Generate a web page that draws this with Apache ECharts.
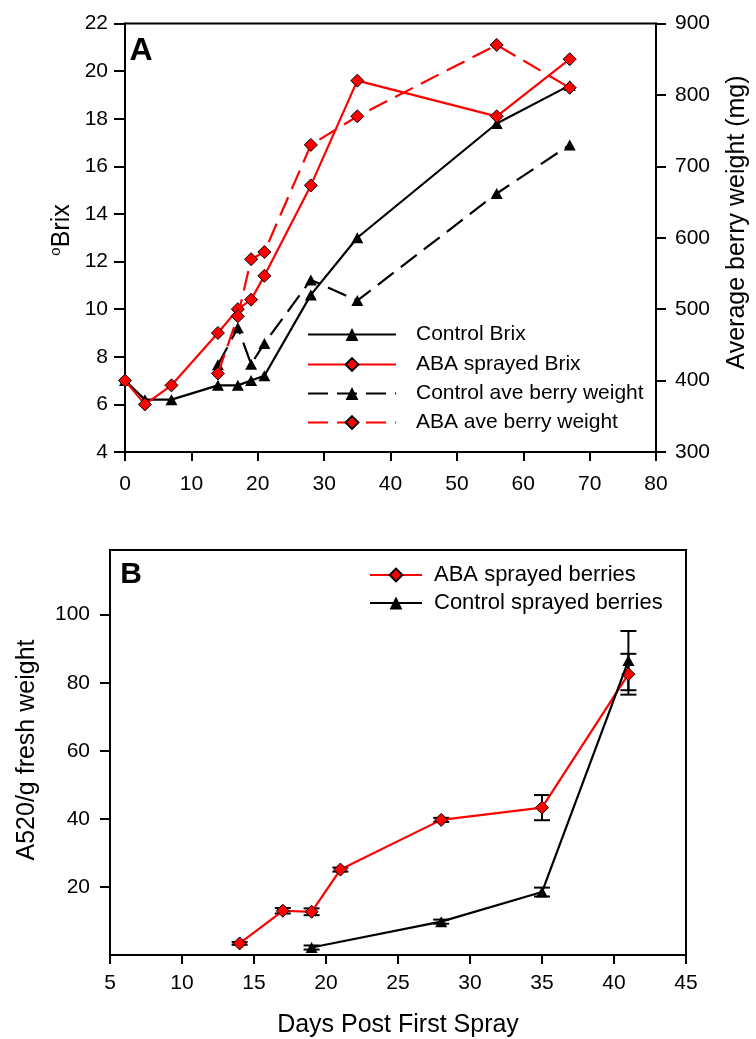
<!DOCTYPE html>
<html><head><meta charset="utf-8">
<script src="https://cdn.jsdelivr.net/npm/echarts@6/dist/echarts.min.js"></script>
<style>html,body{margin:0;padding:0;background:#fff}#c{width:756px;height:1039px}</style>
</head><body><div id="c"></div>
<script>
// ---- Panel A data ----
const daysA = [0, 3, 7, 14, 17, 19, 21, 28, 35, 56, 67];
const controlBrix = [7.0, 6.2, 6.2, 6.8, 6.8, 7.0, 7.2, 10.6, 13.0, 17.8, 19.4];
const abaBrix = [7.0, 6.0, 6.8, 9.0, 10.0, 10.4, 11.4, 15.2, 19.6, 18.1, 20.5];
const daysWeight = [14, 17, 19, 21, 28, 35, 56, 67];
const controlWeight = [422, 474, 423, 452, 541, 512, 662, 730];
const abaWeight = [410, 490, 570, 580, 730, 770, 870, 810];
const namesA = ['Control Brix', 'ABA sprayed Brix', 'Control ave berry weight', 'ABA ave berry weight'];

// ---- Panel B data ----
const daysAbaB = [14, 17, 19, 21, 28, 35, 41];
const abaA520 = [3.4, 13.0, 12.7, 25.1, 39.7, 43.3, 82.5];
const abaErr = [0.4, 0.8, 1.0, 0.6, 0.6, 3.7, 6.0];
const daysCtrlB = [19, 28, 35, 41];
const ctrlA520 = [2.2, 9.8, 18.5, 86.5];
const ctrlErr = [0.6, 0.6, 1.3, 8.7];
const a520Ticks = [20, 40, 60, 80, 100];
const namesB = ['ABA sprayed berries', 'Control sprayed berries'];

const FONT = '"Liberation Sans", Arial, sans-serif';
const RED = '#ff0000';
const zip = (xs, ys) => xs.map((x, i) => [x, ys[i]]);

const axisCommon = (tickLen, margin) => ({
  axisLine: { show: true, onZero: false, lineStyle: { color: '#000', width: 2 } },
  axisTick: { show: true, inside: false, length: tickLen, lineStyle: { color: '#000', width: 2 } },
  axisLabel: { color: '#000', fontSize: 21, fontFamily: FONT, margin: margin },
  splitLine: { show: false }
});

function errorSeries(xs, ys, errs) {
  return {
    type: 'custom', xAxisIndex: 1, yAxisIndex: 2, z: 1, silent: true,
    encode: { x: 0, y: [1, 2] },
    data: xs.map((x, i) => [x, ys[i] - errs[i], ys[i] + errs[i]]),
    renderItem(params, api) {
      const lo = api.coord([api.value(0), api.value(1)]);
      const hi = api.coord([api.value(0), api.value(2)]);
      const hw = 8;
      const st = { stroke: '#000', lineWidth: 2 };
      return { type: 'group', children: [
        { type: 'line', shape: { x1: hi[0], y1: hi[1], x2: lo[0], y2: lo[1] }, style: st },
        { type: 'line', shape: { x1: hi[0] - hw, y1: hi[1], x2: hi[0] + hw, y2: hi[1] }, style: st },
        { type: 'line', shape: { x1: lo[0] - hw, y1: lo[1], x2: lo[0] + hw, y2: lo[1] }, style: st }
      ] };
    }
  };
}

const diamond = { symbol: 'diamond', symbolSize: 13, itemStyle: { color: RED, borderColor: '#000', borderWidth: 1 } };
const triangle = { symbol: 'triangle', symbolSize: [12, 11], itemStyle: { color: '#000' } };

function legendItem(name, left, cy, w, fs, pad) {
  return {
    data: [name], left: left, top: cy - 11, orient: 'vertical', padding: 0,
    itemWidth: w, itemHeight: 16, selectedMode: false,
    textStyle: { fontSize: fs, fontFamily: FONT, color: '#000', padding: [0, 0, 0, pad] }
  };
}

const option = {
  animation: false,
  backgroundColor: '#fff',
  grid: [
    { left: 125, top: 23.5, width: 531, height: 428.5, show: true, borderColor: '#000', borderWidth: 2, backgroundColor: 'transparent' },
    { left: 110, top: 550, width: 576, height: 405, show: true, borderColor: '#000', borderWidth: 2, backgroundColor: 'transparent' }
  ],
  xAxis: [
    Object.assign({ type: 'value', gridIndex: 0, min: 0, max: 80, interval: 10 }, axisCommon(9, 22)),
    Object.assign({ type: 'value', gridIndex: 1, min: 5, max: 45, interval: 5 }, axisCommon(9, 18))
  ],
  yAxis: [
    Object.assign({ type: 'value', gridIndex: 0, position: 'left', min: 4, max: 22, interval: 2 }, axisCommon(11, 17)),
    Object.assign({ type: 'value', gridIndex: 0, position: 'right', min: 300, max: 900, interval: 100 }, axisCommon(10, 19)),
    (function () {
      const a = Object.assign({ type: 'value', gridIndex: 1, position: 'left', min: 0, max: 119 }, axisCommon(10, 20));
      a.axisLabel.customValues = a520Ticks;
      a.axisTick.customValues = a520Ticks;
      return a;
    })()
  ],
  legend: [
    legendItem(namesA[0], 307, 335, 88, 21, 15),
    legendItem(namesA[1], 307, 365, 88, 21, 15),
    legendItem(namesA[2], 307, 394, 88, 21, 15),
    legendItem(namesA[3], 307, 423, 88, 21, 15),
    legendItem(namesB[0], 369, 575, 52, 22, 7),
    legendItem(namesB[1], 369, 603, 52, 22, 7)
  ],
  graphic: [
    { type: 'text', x: 141, y: 51, style: { text: 'A', font: 'bold 32px ' + FONT, fill: '#000', align: 'center', verticalAlign: 'middle' } },
    { type: 'text', x: 131, y: 575, style: { text: 'B', font: 'bold 30px ' + FONT, fill: '#000', align: 'center', verticalAlign: 'middle' } },
    { type: 'text', x: 62, y: 230, rotation: Math.PI / 2, style: {
        text: '{sup|o}{m|Brix}', align: 'center', verticalAlign: 'middle', fill: '#000',
        rich: { sup: { fontSize: 15, fontFamily: FONT, fill: '#000', padding: [0, 0, 12, 0] }, m: { fontSize: 25, fontFamily: FONT, fill: '#000' } } } },
    { type: 'text', x: 737.5, y: 222.5, rotation: Math.PI / 2, style: { text: 'Average berry weight (mg)', font: '25px ' + FONT, fill: '#000', align: 'center', verticalAlign: 'middle' } },
    { type: 'text', x: 27, y: 750, rotation: Math.PI / 2, style: { text: 'A520/g fresh weight', font: '25px ' + FONT, fill: '#000', align: 'center', verticalAlign: 'middle' } },
    { type: 'text', x: 398, y: 1025, style: { text: 'Days Post First Spray', font: '25px ' + FONT, fill: '#000', align: 'center', verticalAlign: 'middle' } }
  ],
  series: [
    Object.assign({ name: namesA[0], type: 'line', xAxisIndex: 0, yAxisIndex: 0, data: zip(daysA, controlBrix), lineStyle: { color: '#000', width: 2.2 }, z: 2 }, triangle),
    Object.assign({ name: namesA[1], type: 'line', xAxisIndex: 0, yAxisIndex: 0, data: zip(daysA, abaBrix), lineStyle: { color: RED, width: 2.2 }, z: 3 }, diamond),
    Object.assign({ name: namesA[2], type: 'line', xAxisIndex: 0, yAxisIndex: 1, data: zip(daysWeight, controlWeight), lineStyle: { color: '#000', width: 2.2, type: [20, 9] }, z: 4 }, triangle),
    Object.assign({ name: namesA[3], type: 'line', xAxisIndex: 0, yAxisIndex: 1, data: zip(daysWeight, abaWeight), lineStyle: { color: RED, width: 2.2, type: [20, 9] }, z: 5 }, diamond),
    errorSeries(daysAbaB, abaA520, abaErr),
    errorSeries(daysCtrlB, ctrlA520, ctrlErr),
    Object.assign({ name: namesB[0], type: 'line', xAxisIndex: 1, yAxisIndex: 2, data: zip(daysAbaB, abaA520), lineStyle: { color: RED, width: 2.2 }, z: 3 }, diamond),
    Object.assign({ name: namesB[1], type: 'line', xAxisIndex: 1, yAxisIndex: 2, data: zip(daysCtrlB, ctrlA520), lineStyle: { color: '#000', width: 2.2 }, z: 4 }, triangle)
  ]
};

const chart = echarts.init(document.getElementById('c'), null, { renderer: 'canvas' });
chart.setOption(option);
</script>
</body></html>
